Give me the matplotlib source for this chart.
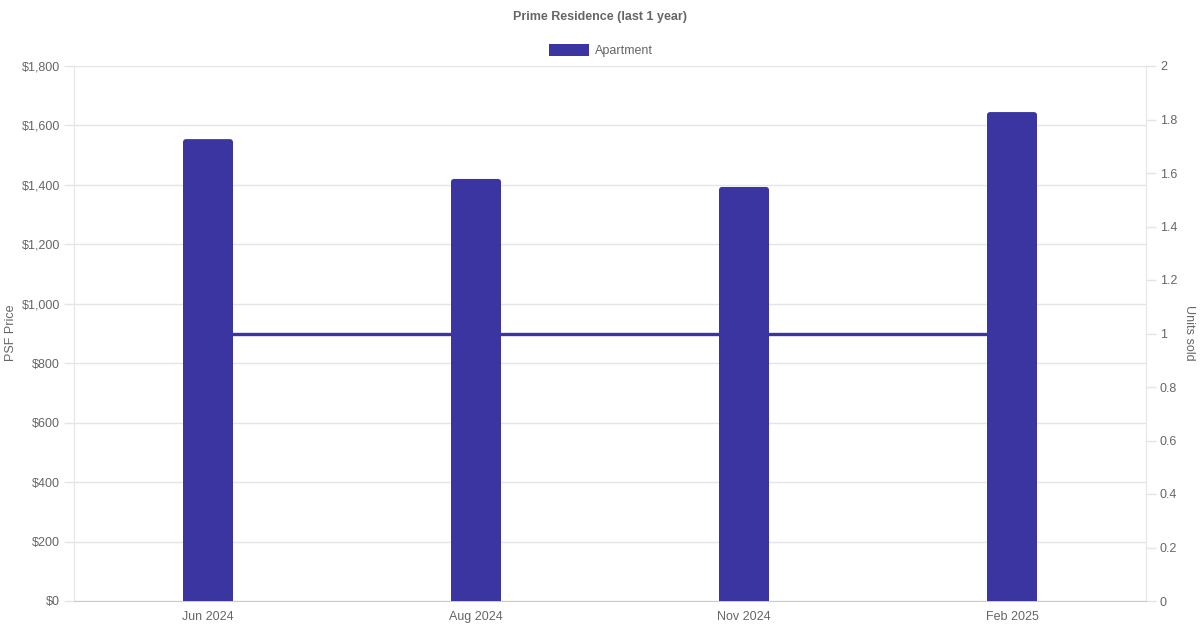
import matplotlib
matplotlib.use("Agg")
import matplotlib.pyplot as plt
from matplotlib.patches import FancyBboxPatch, Rectangle

# --- DATA ---
months = ["Jun 2024", "Aug 2024", "Nov 2024", "Feb 2025"]
psf_price = [1554, 1420, 1393, 1645]
units_sold = [1, 1, 1, 1]
left_ticks = [0, 200, 400, 600, 800, 1000, 1200, 1400, 1600, 1800]
right_ticks = [0, 0.2, 0.4, 0.6, 0.8, 1, 1.2, 1.4, 1.6, 1.8, 2]

BAR = "#3a35a0"
TXT = "#666666"
GRID = "#e5e5e5"
FS = 9

plt.rcParams['font.family'] = ['Liberation Sans', 'DejaVu Sans']

fig = plt.figure(figsize=(12, 6.3), dpi=100)
W, H = 1200, 630
ax = fig.add_axes([74 / W, (H - 601) / H, (1146 - 74) / W, (601 - 66) / H])
ax2 = ax.twinx()

x = list(range(len(months)))
bar_w = 50 / 268

# units sold line, kept behind the bars
ax2.plot(x, units_sold, color=BAR, linewidth=2.4, zorder=1)
ax2.set_ylim(0, 2)
ax2.set_yticks(right_ticks)
ax2.set_yticklabels([f"{t:g}" for t in right_ticks])

ax2.set_zorder(1)
ax.set_zorder(2)
ax.patch.set_visible(False)

# bars with slightly rounded tops
# y px per data unit vs x px per data unit -> aspect for the rounding
aspect = (1072 / 4) / (535 / 1800)
r = 3 / 268
for xi, v in zip(x, psf_price):
    ax.add_patch(FancyBboxPatch((xi - bar_w / 2, 0), bar_w, v,
                                boxstyle=f"round,pad=0,rounding_size={r}",
                                mutation_aspect=aspect,
                                facecolor=BAR, edgecolor="none", zorder=3))
    ax.add_patch(Rectangle((xi - bar_w / 2, 0), bar_w, v / 2,
                           facecolor=BAR, edgecolor="none", zorder=3))

ax.set_xlim(-0.5, 3.5)
ax.set_ylim(0, 1800)
ax.set_xticks(x)
ax.set_xticklabels(months)
ax.set_yticks(left_ticks)
ax.set_yticklabels([f"${t:,}" for t in left_ticks])
ax.grid(axis="y", color=GRID, linewidth=1)
ax.set_axisbelow(True)

for a in (ax, ax2):
    for s in a.spines.values():
        s.set_visible(False)
    a.tick_params(colors=TXT, labelsize=FS, length=7, width=1)
    a.tick_params(axis="y", color=GRID, pad=3)
ax.tick_params(axis="x", length=0, pad=7)
ax.spines["left"].set_visible(True)
ax.spines["left"].set_color(GRID)
ax.spines["bottom"].set_visible(True)
ax.spines["bottom"].set_color("#cccccc")
ax2.spines["right"].set_visible(True)
ax2.spines["right"].set_color(GRID)

# axis titles
fig.text(11 / W, 1 - 333 / H, "PSF Price", rotation=90, ha="center", va="center",
         color=TXT, fontsize=FS)
fig.text(1189 / W, 1 - 333 / H, "Units sold", rotation=-90, ha="center", va="center",
         color=TXT, fontsize=FS)

fig.text(0.5, 1 - 17 / H, "Prime Residence (last 1 year)", ha="center", va="center",
         color=TXT, fontsize=FS, fontweight="bold")
fig.patches.append(Rectangle((549 / W, 1 - 56 / H), 40 / W, 12 / H, transform=fig.transFigure,
                             facecolor=BAR, edgecolor="none"))
fig.text(595 / W, 1 - 51 / H, "Apartment", ha="left", va="center", color=TXT, fontsize=FS)

fig.savefig("out.png", dpi=100)
